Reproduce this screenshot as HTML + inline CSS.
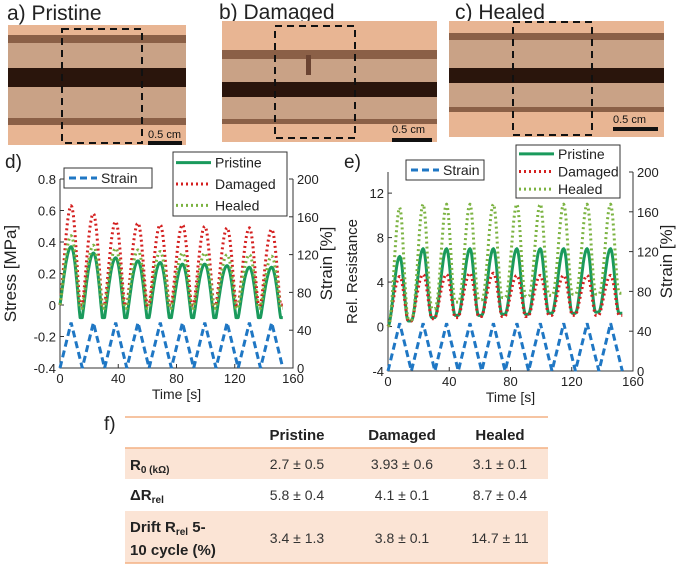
<!DOCTYPE html>
<html><head><meta charset="utf-8"><style>
body{margin:0;background:#fff;}
svg{display:block;font-family:"Liberation Sans",sans-serif;}
</style></head><body>
<svg id="fig" width="685" height="568" viewBox="0 0 685 568">
<g>
<text x="7" y="20" font-size="21" fill="#222">a) Pristine</text>
<rect x="8" y="25" width="178" height="120" fill="#e8b593"/>
<rect x="8" y="35" width="178" height="8" fill="#8b6047"/>
<rect x="8" y="43" width="178" height="25" fill="#c9a286"/>
<rect x="8" y="68" width="178" height="19" fill="#2a150c"/>
<rect x="8" y="87" width="178" height="31" fill="#c9a286"/>
<rect x="8" y="118" width="178" height="7" fill="#8b6047"/>
<rect x="62" y="29" width="80" height="114" fill="none" stroke="#111" stroke-width="2" stroke-dasharray="7,5"/>
<text x="148" y="138" font-size="11" fill="#111">0.5 cm</text>
<rect x="148" y="141" width="34" height="4" fill="#111"/>
</g>
<g>
<text x="219" y="19" font-size="21" fill="#222">b) Damaged</text>
<rect x="222" y="21" width="215" height="121" fill="#e8b593"/>
<rect x="222" y="50" width="215" height="9" fill="#8b6047"/>
<rect x="222" y="59" width="215" height="23" fill="#c9a286"/>
<rect x="222" y="82" width="215" height="15" fill="#2a150c"/>
<rect x="222" y="97" width="215" height="22" fill="#c9a286"/>
<rect x="222" y="119" width="215" height="5" fill="#8b6047"/>
<rect x="306" y="55" width="5" height="20" fill="#6b4432"/>
<rect x="275" y="26" width="80" height="112" fill="none" stroke="#111" stroke-width="2" stroke-dasharray="7,5"/>
<text x="392" y="133" font-size="11" fill="#111">0.5 cm</text>
<rect x="392" y="138" width="40" height="4" fill="#111"/>
</g>
<g>
<text x="455" y="19" font-size="21" fill="#222">c) Healed</text>
<rect x="449" y="21" width="215" height="116" fill="#e8b593"/>
<rect x="449" y="33" width="215" height="7" fill="#8b6047"/>
<rect x="449" y="40" width="215" height="28" fill="#c9a286"/>
<rect x="449" y="68" width="215" height="15" fill="#2a150c"/>
<rect x="449" y="83" width="215" height="24" fill="#c9a286"/>
<rect x="449" y="107" width="215" height="5" fill="#8b6047"/>
<rect x="513" y="22" width="79" height="113" fill="none" stroke="#111" stroke-width="2" stroke-dasharray="7,5"/>
<text x="613" y="123" font-size="11" fill="#111">0.5 cm</text>
<rect x="613" y="127" width="45" height="4" fill="#111"/>
</g>
<g id="chartD"></g>
<g id="chartE"></g>
<g>
<text x="104" y="430" font-size="19" fill="#222">f)</text>
<line x1="125" y1="417" x2="548" y2="417" stroke="#f4b183" stroke-width="1.5"/>
<rect x="125" y="448" width="423" height="31" fill="#fbe4d5"/>
<rect x="125" y="511" width="423" height="52" fill="#fbe4d5"/>
<line x1="125" y1="448" x2="548" y2="448" stroke="#f4b183" stroke-width="1.5"/>
<line x1="125" y1="563" x2="548" y2="563" stroke="#f4b183" stroke-width="1.5"/>
<g font-size="15" font-weight="bold" fill="#222" text-anchor="middle">
<text x="297" y="440">Pristine</text>
<text x="402" y="440">Damaged</text>
<text x="500" y="440">Healed</text>
</g>
<g font-size="15" font-weight="bold" fill="#222">
<text x="130" y="470">R<tspan font-size="10" dy="3">0 (kΩ)</tspan></text>
<text x="130" y="500">ΔR<tspan font-size="10" dy="3">rel</tspan></text>
<text x="130" y="532">Drift R<tspan font-size="10" dy="3">rel</tspan><tspan dy="-3"> 5-</tspan></text>
<text x="130" y="555">10 cycle (%)</text>
</g>
<g font-size="14" fill="#333" text-anchor="middle">
<text x="297" y="469">2.7 ± 0.5</text><text x="402" y="469">3.93 ± 0.6</text><text x="500" y="469">3.1 ± 0.1</text>
<text x="297" y="500">5.8 ± 0.4</text><text x="402" y="500">4.1 ± 0.1</text><text x="500" y="500">8.7 ± 0.4</text>
<text x="297" y="543">3.4 ± 1.3</text><text x="402" y="543">3.8 ± 0.1</text><text x="500" y="543">14.7 ± 11</text>
</g>
</g>
</svg>
<script>
const period = 15.3;
const strainPeaks = [48,48,48,48,48,48,48,48,48,48];
const stressPristinePeaks = [0.37,0.33,0.30,0.28,0.27,0.26,0.26,0.25,0.24,0.24];
const stressPristineTroughs = [-0.08,-0.08,-0.08,-0.08,-0.08,-0.08,-0.08,-0.08,-0.08,-0.08];
const stressDamagedPeaks = [0.63,0.58,0.53,0.52,0.51,0.51,0.50,0.49,0.49,0.48];
const stressDamagedTroughs = [0,0,0,0,0,0,0,0,0,0];
const stressHealedPeaks = [0.44,0.38,0.36,0.35,0.34,0.33,0.33,0.32,0.32,0.31];
const stressHealedTroughs = [-0.02,-0.02,-0.02,-0.02,-0.02,-0.02,-0.02,-0.02,-0.02,-0.02];
const resPristinePeaks = [6.3,7,7,7,7,7,7,7,7,7];
const resPristineTroughs = [0.5,0.8,1.0,1.0,1.1,1.1,1.2,1.2,1.3,1.2];
const resDamagedPeaks = [4.5,4.7,4.7,4.8,4.8,4.6,4.6,4.6,4.6,4.6];
const resDamagedTroughs = [0.5,0.7,0.8,0.9,0.9,0.9,1.0,1.0,1.0,1.0];
const resHealedPeaks = [10.7,11,11,11,11,11,11,11,11,11];
const resHealedTroughs = [0.6,1.6,2.2,2.4,2.6,2.7,2.8,2.9,2.9,3.0];
const xTicks = [0,40,80,120,160];
const stressTicks = [0.8,0.6,0.4,0.2,0,-0.2,-0.4];
const resTicks = [12,8,4,0,-4];
const strainTicks = [200,160,120,80,40,0];

const NS="http://www.w3.org/2000/svg";
function mk(parent,tag,attrs,text){const e=document.createElementNS(NS,tag);for(const k in attrs)e.setAttribute(k,attrs[k]);if(text!==undefined)e.textContent=text;parent.appendChild(e);return e;}

function wave(peaks,troughs,start,sharp,skew){
  const pts=[[0,start]];
  peaks.forEach((p,i)=>{
    const t0=i*period, tr=troughs[i];
    const prev = i===0?start:troughs[i-1];
    for(let k=1;k<=30;k++){
      const f=k/30, t=t0+f*period;
      let v;
      if(f<=0.5){const s=Math.pow(Math.sin(Math.PI*f),sharp); v=prev+(p-prev)*s;}
      else{const g=Math.min(1,(f-0.5)*skew+0.5); const s=Math.pow(Math.sin(Math.PI*g),sharp); v=tr+(p-tr)*s;}
      pts.push([t,v]);
    }
  });
  return pts;
}
function strainWave(){
  const pts=[[0,0]];
  strainPeaks.forEach((p,i)=>{pts.push([i*period+period/2,p]);pts.push([(i+1)*period,0]);});
  return pts;
}

function chart(g,cfg){
  const x=v=>cfg.x0+v/160*(cfg.x1-cfg.x0);
  const y=v=>cfg.yb-(v-cfg.ymin)/(cfg.ymax-cfg.ymin)*(cfg.yb-cfg.yt);
  const ys=v=>cfg.yb-v/200*(cfg.yb-cfg.ys200);
  mk(g,"text",{x:cfg.lx,y:cfg.ly,"font-size":19,fill:"#222"},cfg.label);
  const ax=mk(g,"path",{d:`M${cfg.x0},${cfg.yt} V${cfg.yb} H${cfg.x1} V${cfg.ys200}`,fill:"none",stroke:"#333","stroke-width":1});
  
  
  xTicks.forEach(t=>{
    mk(g,"line",{x1:x(t),x2:x(t),y1:cfg.yb,y2:cfg.yb-4,stroke:"#333"});
    const tl=mk(g,"text",{x:x(t),y:cfg.yb+15,"font-size":13,"text-anchor":"middle",fill:"#222"},t);
    
    
  });
  cfg.ticks.forEach(t=>{
    mk(g,"line",{x1:cfg.x0,x2:cfg.x0+4,y1:y(t),y2:y(t),stroke:"#333"});
    const tl=mk(g,"text",{x:cfg.x0-4,y:y(t)+5,"font-size":13,"text-anchor":"end",fill:"#222"},t);
    
    
  });
  strainTicks.forEach(t=>{
    mk(g,"line",{x1:cfg.x1,x2:cfg.x1-4,y1:ys(t),y2:ys(t),stroke:"#333"});
    const tl=mk(g,"text",{x:cfg.x1+4,y:ys(t)+5,"font-size":13,fill:"#222"},t);
    
    
  });
  const xt=mk(g,"text",{x:(cfg.x0+cfg.x1)/2,y:cfg.yb+31,"font-size":14,"text-anchor":"middle",fill:"#222"},"Time [s]");
  
  
  const yt=mk(g,"text",{transform:`translate(${cfg.ytx},${(cfg.yt+cfg.yb)/2}) rotate(-90)`,"font-size":cfg.ytfs,"text-anchor":"middle",fill:"#222"},cfg.ytitle);
  
  
  const st=mk(g,"text",{transform:`translate(${cfg.x1+39},${(cfg.yt+cfg.yb)/2-10}) rotate(-90)`,"font-size":17,"text-anchor":"middle",fill:"#222"},"Strain [%]");
  
  
  const path=(pts,fy)=>"M"+pts.map(p=>x(p[0]).toFixed(1)+","+fy(p[1]).toFixed(1)).join(" L");
  const sw=mk(g,"path",{d:path(strainWave(),ys),fill:"none",stroke:"#1f77c4","stroke-width":3,"stroke-dasharray":"7,4"});
  
  
  cfg.series.forEach(s=>{
    const p=mk(g,"path",{d:path(wave(s.peaks,s.troughs,s.start,s.sharp,s.skew),y),fill:"none",stroke:s.color,"stroke-width":3,"stroke-dasharray":s.dash||"none","stroke-linejoin":"round"});
    
    
  });
  const L=cfg.leg;
  const sb=mk(g,"g",{});
  
  
  mk(sb,"rect",{x:L.sx,y:L.sy,width:L.sw,height:20,fill:"#fff",stroke:"#333"});
  mk(sb,"line",{x1:L.sx+5,x2:L.sx+33,y1:L.sy+10,y2:L.sy+10,stroke:"#1f77c4","stroke-width":3,"stroke-dasharray":"7,4"});
  mk(sb,"text",{x:L.sx+37,y:L.sy+15,"font-size":14,fill:"#222"},"Strain");
  const mb=mk(g,"g",{});
  
  
  mk(mb,"rect",{x:L.mx,y:L.my,width:L.mw,height:L.mh,fill:"#fff",stroke:"#333"});
  const rowH=L.mh/3;
  cfg.series.forEach((s,i)=>{
    const yy=L.my+rowH*(i+0.5);
    mk(mb,"line",{x1:L.mx+3,x2:L.mx+38,y1:yy,y2:yy,stroke:s.color,"stroke-width":3,"stroke-dasharray":s.dash||"none"});
    mk(mb,"text",{x:L.mx+42,y:yy+5,"font-size":14,fill:"#222"},s.label);
  });
}
chart(document.getElementById("chartD"),{
  x0:60,x1:293,yt:179,yb:368,ys200:179,ymin:-0.4,ymax:0.8,ticks:stressTicks,
  label:"d)",lx:5,ly:168,ytitle:"Stress [MPa]",ytx:16,ytfs:17,
  leg:{sx:64,sy:168,sw:88,mx:173,my:152,mw:114,mh:64},
  series:[
    {name:"pristine-stress-line",label:"Pristine",color:"#1a9a5c",peaks:stressPristinePeaks,troughs:stressPristineTroughs,start:0,sharp:1.1,skew:1.25},
    {name:"damaged-stress-line",label:"Damaged",color:"#d42020",dash:"2,3",peaks:stressDamagedPeaks,troughs:stressDamagedTroughs,start:0,sharp:1.3,skew:1.25},
    {name:"healed-stress-line",label:"Healed",color:"#7cb342",dash:"2,3",peaks:stressHealedPeaks,troughs:stressHealedTroughs,start:0,sharp:1.2,skew:1.25}
  ]
});
chart(document.getElementById("chartE"),{
  x0:388,x1:633,yt:172,yb:371,ys200:172,ymin:-4,ymax:13.9,ticks:resTicks,
  label:"e)",lx:344,ly:168,ytitle:"Rel. Resistance",ytx:357,ytfs:15,
  leg:{sx:406,sy:160,sw:78,mx:516,my:145,mw:104,mh:53},
  series:[
    {name:"pristine-resistance-line",label:"Pristine",color:"#1a9a5c",peaks:resPristinePeaks,troughs:resPristineTroughs,start:0,sharp:1.8,skew:1.4},
    {name:"damaged-resistance-line",label:"Damaged",color:"#d42020",dash:"2,3",peaks:resDamagedPeaks,troughs:resDamagedTroughs,start:0,sharp:1.5,skew:1.4},
    {name:"healed-resistance-line",label:"Healed",color:"#7cb342",dash:"2,3",peaks:resHealedPeaks,troughs:resHealedTroughs,start:0,sharp:2.2,skew:1.3}
  ]
});
</script>
</body></html>
